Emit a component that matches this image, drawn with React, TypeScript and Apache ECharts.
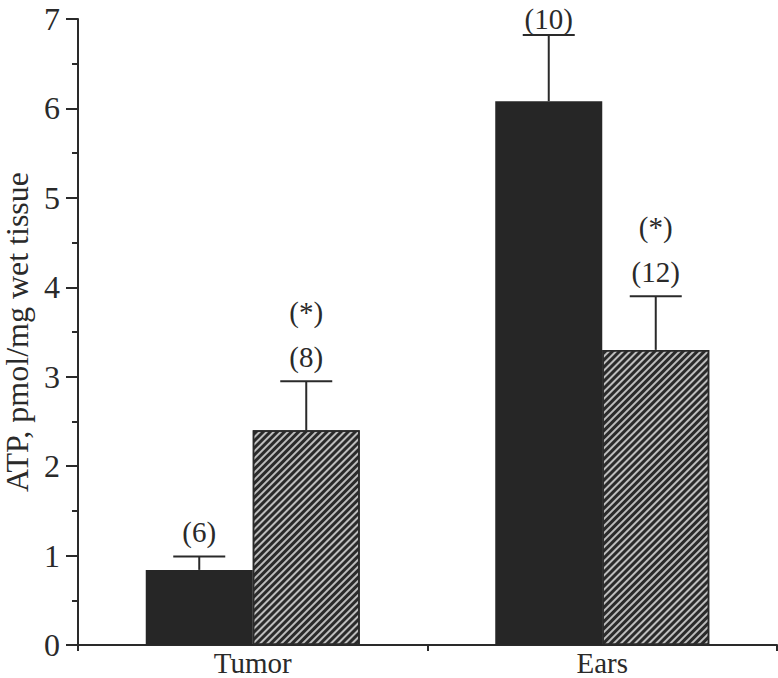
import React, { useEffect, useRef } from "react";
import * as echarts from "echarts";

const categories = ["Tumor", "Ears"];
const controlMean = [0.84, 6.08];
const controlUpper = [0.99, 6.82];
const treatedMean = [2.4, 3.3];
const treatedUpper = [2.95, 3.9];
const controlN = ["(6)", "(10)"];
const treatedN = ["(8)", "(12)"];
const treatedSig = ["(*)", "(*)"];
const yTicks = [0, 1, 2, 3, 4, 5, 6, 7];

const FONT = "'Liberation Serif', 'Times New Roman', serif";
const INK = "#2a2a2a";
const BAR_W = 107;

function makeErr(means: number[], uppers: number[], nLabels: string[], sig: string[] | null, side: number) {
  return {
    type: "custom",
    z: 5,
    data: means.map((m, i) => [i, m, uppers[i]]),
    renderItem: (params: any, api: any) => {
      const i = api.value(0);
      const p0 = api.coord([i, api.value(1)]);
      const p1 = api.coord([i, api.value(2)]);
      const x = p0[0] + side * BAR_W / 2;
      const children: any[] = [
        { type: "line", shape: { x1: x, y1: p0[1], x2: x, y2: p1[1] }, style: { stroke: INK, lineWidth: 2 } },
        { type: "line", shape: { x1: x - 26, y1: p1[1], x2: x + 26, y2: p1[1] }, style: { stroke: INK, lineWidth: 2 } },
        {
          type: "text",
          x,
          y: Math.max(p1[1] - 24, 19),
          style: { text: nLabels[params.dataIndex], fontSize: 29, fontFamily: FONT, fill: INK, align: "center", verticalAlign: "middle" },
        },
      ];
      if (sig && sig[params.dataIndex]) {
        children.push({
          type: "text",
          x,
          y: p1[1] - 69,
          style: { text: sig[params.dataIndex], fontSize: 29, fontFamily: FONT, fill: INK, align: "center", verticalAlign: "middle" },
        });
      }
      return { type: "group", children };
    },
  };
}

export default function App() {
  const ref = useRef<HTMLDivElement>(null);
  useEffect(() => {
    if (!ref.current) return;
    const chart = echarts.init(ref.current, null, { renderer: "svg" });
    chart.setOption({
      animation: false,
      backgroundColor: "#ffffff",
      grid: { left: 78, right: 1, top: 19, bottom: 33, containLabel: false, outerBoundsMode: "none" },
      xAxis: {
        type: "category",
        data: categories,
        axisLine: { lineStyle: { color: INK, width: 2 } },
        axisTick: { show: true, length: 6, lineStyle: { color: INK, width: 2 } },
        axisLabel: { fontSize: 29, lineHeight: 29, fontFamily: FONT, color: INK, margin: 3 },
      },
      yAxis: {
        type: "value",
        min: yTicks[0],
        max: yTicks[yTicks.length - 1],
        interval: 1,
        name: "ATP, pmol/mg wet tissue",
        nameLocation: "middle",
        nameRotate: 90,
        nameGap: 38,
        nameTextStyle: { fontSize: 32, lineHeight: 32, fontFamily: FONT, color: INK },
        splitLine: { show: false },
        axisLine: { show: true, lineStyle: { color: INK, width: 2 } },
        axisTick: { show: true, length: 12, lineStyle: { color: INK, width: 2 } },
        minorTick: { show: true, splitNumber: 2, length: 6, lineStyle: { color: INK, width: 2 } },
        axisLabel: { fontSize: 32, fontFamily: FONT, color: INK, margin: 18 },
      },
      series: [
        {
          type: "bar",
          data: controlMean,
          barWidth: BAR_W,
          barGap: "0%",
          itemStyle: { color: "#262626" },
        },
        {
          type: "bar",
          data: treatedMean,
          barWidth: BAR_W,
          barGap: "0%",
          itemStyle: {
            color: "#bdbdbd",
            borderColor: INK,
            borderWidth: 1.5,
            decal: {
              symbol: "rect",
              symbolSize: 1,
              dashArrayX: [1, 0],
              dashArrayY: [2.3, 1.6],
              rotation: -Math.PI / 4,
              color: "#2a2a2a",
            },
          },
        },
        makeErr(controlMean, controlUpper, controlN, null, -1),
        makeErr(treatedMean, treatedUpper, treatedN, treatedSig, 1),
      ],
    });
    return () => chart.dispose();
  }, []);
  return <div ref={ref} style={{ width: 778, height: 678, position: "absolute", left: 0, top: 0 }} />;
}
